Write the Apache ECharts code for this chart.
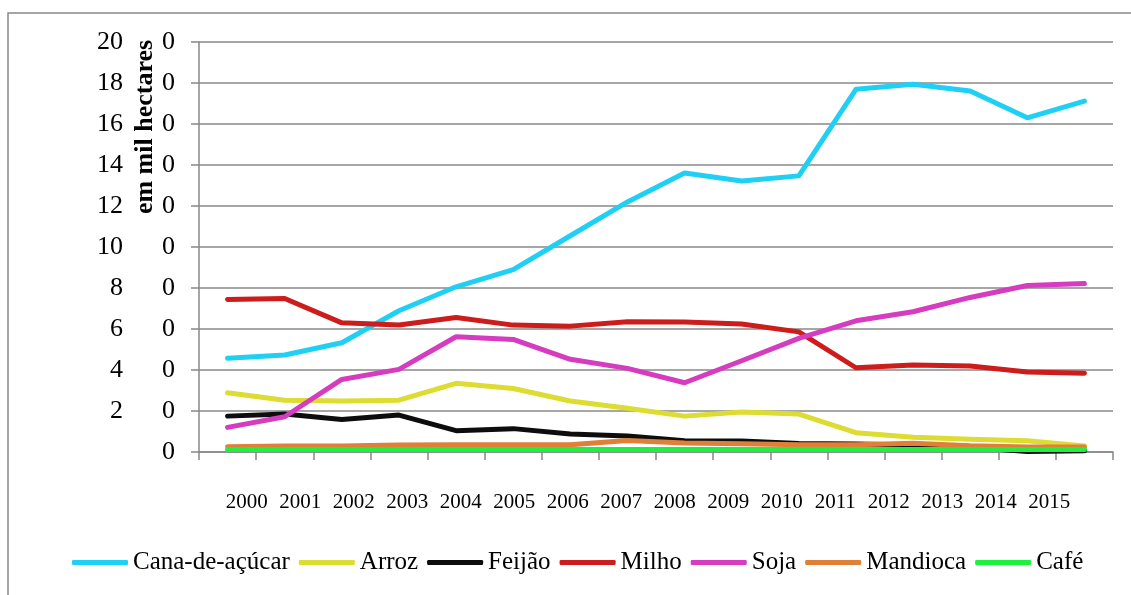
<!DOCTYPE html>
<html>
<head>
<meta charset="utf-8">
<script src="https://cdn.jsdelivr.net/npm/echarts@6/dist/echarts.min.js"></script>
<style>
    html, body { margin: 0; padding: 0; background: #fff; }
    #main { width: 1131px; height: 595px; }
</style>
</head>
<body>
<div id="main"></div>
<script>
var anos = ['2000', '2001', '2002', '2003', '2004', '2005', '2006', '2007',
    '2008', '2009', '2010', '2011', '2012', '2013', '2014', '2015'];

var cana = [45.7, 47.3, 53.3, 68.9, 80.6, 89, 105.5, 122, 136.1, 132.2, 134.7, 176.9, 179.4, 176.1, 163, 171.2];
var arroz = [28.9, 25.2, 24.9, 25.3, 33.5, 31, 24.9, 21.3, 17.5, 19.5, 18.5, 9.4, 7.2, 6.2, 5.5, 2.9];
var feijao = [17.5, 18.5, 15.9, 18, 10.4, 11.4, 8.8, 7.8, 5.5, 5.4, 4.2, 3.9, 3.4, 2.3, 0.2, 0.6];
var milho = [74.4, 74.9, 63, 62, 65.6, 61.9, 61.4, 63.5, 63.4, 62.4, 58.6, 41.1, 42.4, 41.9, 39, 38.4];
var soja = [12, 17.2, 35.4, 40.3, 56.2, 54.9, 45.2, 40.8, 33.8, 44.5, 55.4, 64, 68.4, 75.4, 81.2, 82.2];
var mandioca = [2.6, 2.9, 2.9, 3.4, 3.5, 3.5, 3.5, 5.6, 4.4, 4, 3.5, 3.5, 4.3, 3, 2.5, 2.5];
var cafe = [1.2, 1.2, 1.2, 1.2, 1.2, 1.2, 1.2, 1.2, 1.2, 1.2, 1.2, 1.2, 1.2, 1.2, 1.2, 1.2];

var nomes = ['Cana-de-açúcar', 'Arroz', 'Feijão', 'Milho', 'Soja', 'Mandioca', 'Café'];
var cores = ['#20d0f4', '#dcdc32', '#0d0d0d', '#cc1c1c', '#d63cc0', '#de8038', '#1ef040'];
var dados = [cana, arroz, feijao, milho, soja, mandioca, cafe];

var fonte = '"Liberation Serif", "Times New Roman", serif';

var myChart = echarts.init(document.getElementById('main'));

var series = [];
for (var i = 0; i < nomes.length; i++) {
    series.push({
        name: nomes[i],
        type: 'line',
        xAxisIndex: 0,
        yAxisIndex: 0,
        data: dados[i],
        symbol: 'none',
        color: cores[i],
        lineStyle: { width: 5, color: cores[i], cap: 'round', join: 'round' }
    });
}

var option = {
    animation: false,
    backgroundColor: '#fff',
    textStyle: { fontFamily: fonte },
    grid: [
        { left: 199, right: 18, top: 42, bottom: 143 },
        // labels of the years sit on a slightly narrower band
        { left: 220, right: 55, top: 42, bottom: 143 }
    ],
    xAxis: [
        {
            type: 'category',
            gridIndex: 0,
            data: anos,
            boundaryGap: true,
            axisLine: { lineStyle: { color: '#888', width: 1.5 } },
            axisTick: { show: true, length: 8, interval: 0, lineStyle: { color: '#888', width: 1.5 } },
            axisLabel: { show: false }
        },
        {
            type: 'category',
            gridIndex: 1,
            data: anos,
            axisLine: { show: false },
            axisTick: { show: false },
            axisLabel: { interval: 0, margin: 40, color: '#000', fontSize: 21, fontFamily: fonte }
        }
    ],
    yAxis: [
        {
            type: 'value',
            gridIndex: 0,
            min: 0,
            max: 200,
            interval: 20,
            axisLine: { show: true, lineStyle: { color: '#888', width: 1.5 } },
            axisTick: { show: true, length: 8, lineStyle: { color: '#888', width: 1.5 } },
            splitLine: { lineStyle: { color: '#888', width: 1.5 } },
            axisLabel: {
                margin: 24,
                formatter: function (v) {
                    var a = v === 0 ? '' : String(v / 10);
                    return '{a|' + a + '}{s|}{b|0}';
                },
                rich: {
                    a: { width: 30, align: 'right', fontSize: 26, fontFamily: fonte, color: '#000' },
                    s: { width: 39 },
                    b: { fontSize: 26, fontFamily: fonte, color: '#000' }
                }
            }
        },
        {
            type: 'value',
            gridIndex: 1,
            min: 0,
            max: 1,
            show: false
        }
    ],
    legend: {
        left: 72,
        top: 550,
        padding: 0,
        icon: 'roundRect',
        itemWidth: 56,
        itemHeight: 5,
        itemGap: 9,
        textStyle: { fontSize: 25, fontFamily: fonte, color: '#000' },
        data: nomes
    },
    graphic: [
        {
            type: 'rect',
            z: -1,
            shape: { x: 8, y: 13, width: 1200, height: 700 },
            style: { fill: 'none', stroke: '#888', lineWidth: 1.5 }
        },
        {
            type: 'text',
            z: 100,
            x: 145,
            y: 127,
            rotation: Math.PI / 2,
            style: {
                text: 'em mil hectares',
                font: 'bold 26px ' + fonte,
                fill: '#000',
                align: 'center',
                verticalAlign: 'middle',
                backgroundColor: '#fff',
                padding: [2, 4, 2, 4]
            }
        }
    ],
    series: series
};
myChart.setOption(option);
</script>
</body>
</html>
